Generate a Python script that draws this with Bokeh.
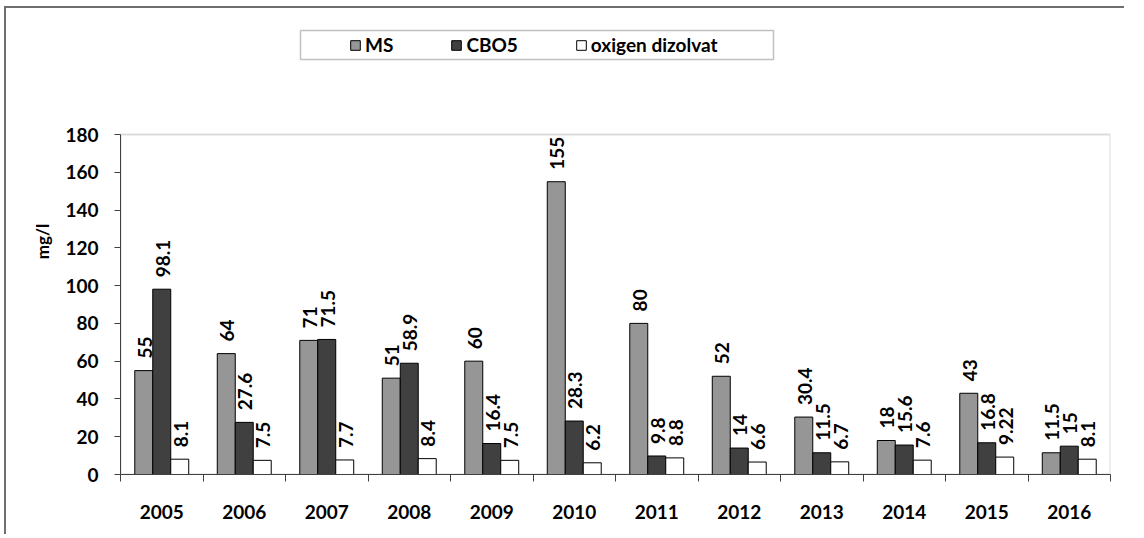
import math
from bokeh.plotting import figure
from bokeh.models import (Range1d, FixedTicker, LinearAxis, Legend, LegendItem,
                          BoxAnnotation, ColumnDataSource)
from bokeh.core.properties import value
from bokeh.embed import file_html
from bokeh.resources import INLINE

years = ["2005", "2006", "2007", "2008", "2009", "2010", "2011", "2012",
         "2013", "2014", "2015", "2016"]
ms = [55, 64, 71, 51, 60, 155, 80, 52, 30.4, 18, 43, 11.5]
cbo5 = [98.1, 27.6, 71.5, 58.9, 16.4, 28.3, 9.8, 14, 11.5, 15.6, 16.8, 15]
oxigen = [8.1, 7.5, 7.7, 8.4, 7.5, 6.2, 8.8, 6.6, 6.7, 7.6, 9.22, 8.1]
series_names = ["MS", "CBO5", "oxigen dizolvat"]
y_ticks = [0, 20, 40, 60, 80, 100, 120, 140, 160, 180]

FONT = "Lato"
W, H = 1120, 528
OX, OY = 6, 8                 # figure offset in the page (after css margin)
F_LEFT, F_RIGHT = 120 - OX, 1110 - OX
Y0, Y180 = 474 - OY, 134 - OY  # pixel rows of value 0 and value 180
BW = 0.218

n = len(years)
y_top = 180.0
ymax = y_top * Y0 / (Y0 - Y180)   # frame extends to the top of the canvas


def px_x(fx):
    return (fx - F_LEFT) * n / (F_RIGHT - F_LEFT)


def px_y(fy):
    return (Y0 - fy) * y_top / (Y0 - Y180)


p = figure(width=W, height=H, output_backend="svg", toolbar_location=None,
           x_range=Range1d(0, n), y_range=Range1d(0, ymax),
           min_border_left=F_LEFT, min_border_top=0,
           min_border_right=W - F_RIGHT, min_border_bottom=H - Y0,
           x_axis_type=None, y_axis_type=None)
p.xgrid.visible = False
p.ygrid.visible = False
p.outline_line_alpha = 0
p.background_fill_color = "white"
p.border_fill_color = "white"
p.styles = {"margin-left": "4px", "margin-top": "6px",
            "border-left": "2px solid #6f6f6f",
            "border-top": "2px solid #6f6f6f"}

# plot-area frame (grey, as in the original)
plot_area = BoxAnnotation(left=0, right=n, bottom=0, top=y_top,
                          fill_alpha=0, line_color="#8a8a8a", line_width=2,
                          level="underlay")
p.add_layout(plot_area)

# y axis
yax = LinearAxis(ticker=FixedTicker(ticks=y_ticks, minor_ticks=[]),
                 axis_label="mg/l", bounds=(0, y_top))
yax.axis_line_color = "#404040"
yax.major_tick_line_color = "#404040"
yax.major_tick_in = 0
yax.major_tick_out = 6
yax.minor_tick_line_alpha = 0
yax.major_label_text_font = FONT
yax.major_label_text_font_style = "bold"
yax.major_label_text_font_size = "19px"
yax.major_label_text_color = "black"
yax.major_label_standoff = 16
yax.axis_label_text_font = FONT
yax.axis_label_text_font_style = "bold"
yax.axis_label_text_font_size = "17px"
yax.axis_label_text_color = "black"
yax.axis_label_standoff = 9
p.add_layout(yax, "left")

# x axis: labels at category centres, tick marks at category boundaries
centres = [i + 0.5 for i in range(n)]
xax = LinearAxis(ticker=FixedTicker(ticks=centres,
                                    minor_ticks=list(range(n + 1))))
xax.major_label_overrides = {c: y for c, y in zip(centres, years)}
xax.axis_line_color = "#404040"
xax.major_tick_line_alpha = 0
xax.major_tick_in = 0
xax.major_tick_out = 0
xax.minor_tick_line_color = "#404040"
xax.minor_tick_in = 0
xax.minor_tick_out = 7
xax.major_label_text_font = FONT
xax.major_label_text_font_style = "bold"
xax.major_label_text_font_size = "19px"
xax.major_label_text_color = "black"
xax.major_label_standoff = 23
p.add_layout(xax, "below")

colors = ["#969696", "#404040", "#ffffff"]
offsets = [-BW, 0, BW]
renderers = []
for vals, col, off in zip([ms, cbo5, oxigen], colors, offsets):
    xs = [c + off for c in centres]
    src = ColumnDataSource(dict(x=xs, top=vals,
                                lab=[f"{v:g}" for v in vals]))
    r = p.vbar(x="x", top="top", bottom=0, width=BW, source=src,
               fill_color=col, line_color="black", line_width=1)
    renderers.append(r)
    p.text(x="x", y="top", text="lab", source=src, angle=math.pi / 2,
           text_align="left", text_baseline="middle", y_offset=-12,
           x_offset=1,
           text_font=value(FONT), text_font_style="bold",
           text_font_size="19px", text_color="black")

# legend box
leg_box = BoxAnnotation(left=px_x(300 - OX), right=px_x(773 - OX),
                        top=px_y(30 - OY), bottom=px_y(59 - OY),
                        fill_color="white", fill_alpha=1,
                        line_color="#333333", line_width=1.5,
                        level="underlay")
p.add_layout(leg_box)

legend = Legend(items=[LegendItem(label=nm, renderers=[r])
                       for nm, r in zip(series_names, renderers)],
                orientation="horizontal",
                location=(349 - OX - 4 - F_LEFT, Y0 - (60 - OY)))
legend.glyph_width = 12
legend.glyph_height = 12
legend.label_standoff = 4
legend.spacing = 57
legend.padding = 4
legend.margin = 0
legend.label_text_font = FONT
legend.label_text_font_style = "bold"
legend.label_text_font_size = "19px"
legend.label_text_color = "black"
legend.border_line_alpha = 0
legend.background_fill_alpha = 0
p.add_layout(legend, "center")

open("out.html", "w").write(file_html(p, INLINE))
